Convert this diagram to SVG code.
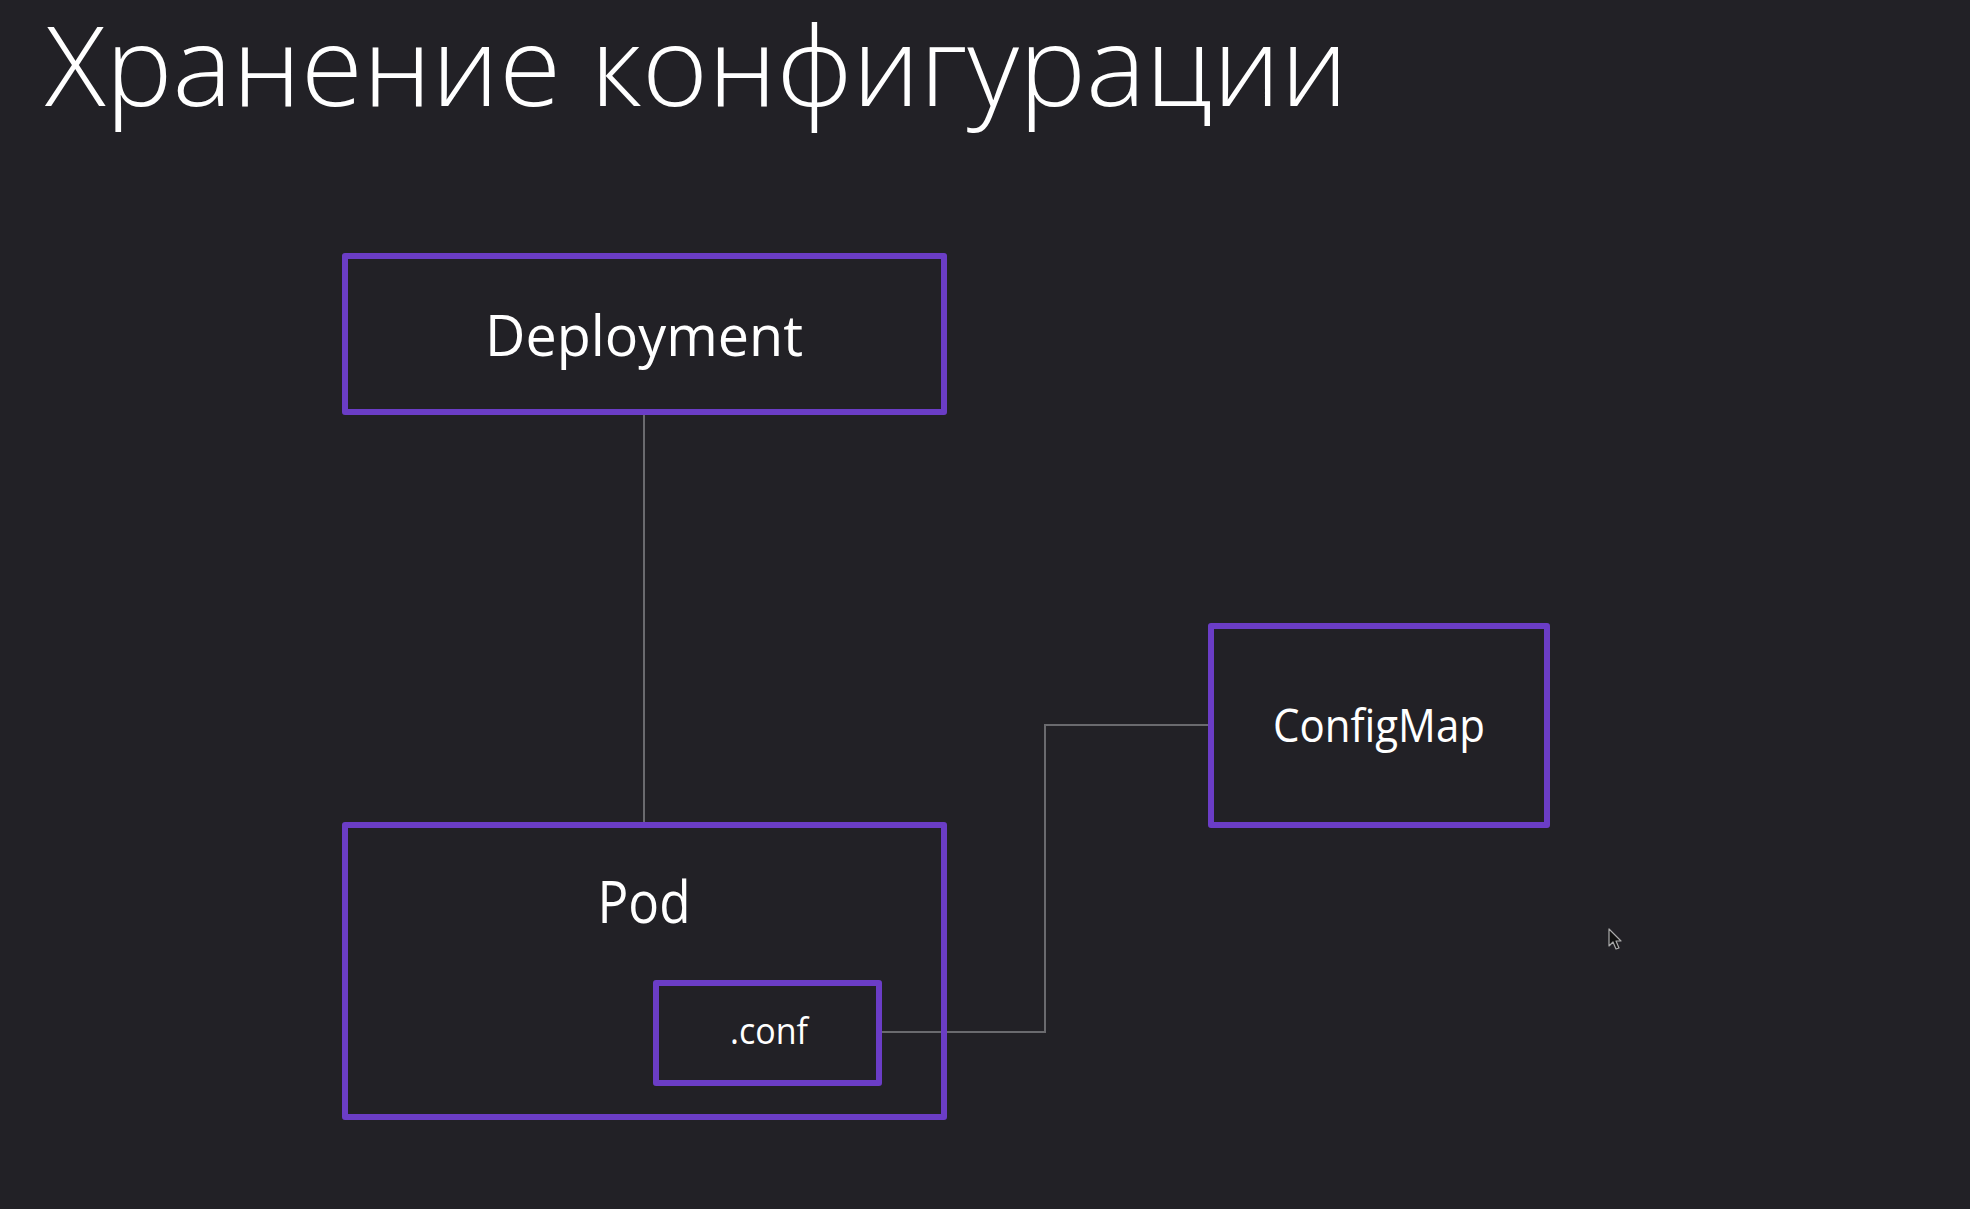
<svg xmlns="http://www.w3.org/2000/svg" width="1970" height="1209" viewBox="0 0 1970 1209">
  <style>
    .box { fill: none; stroke: #6b3dc6; stroke-width: 6; stroke-linejoin: round; }
    .lbl { font-family: "Open Sans", "Noto Sans", "Liberation Sans", sans-serif; fill: #ffffff; text-anchor: middle; }
    .title { font-family: "Open Sans", "Noto Sans", "Liberation Sans", sans-serif; font-weight: 300; fill: #ffffff; font-size: 110px; }
    .conn { fill: none; stroke: #6a6a6e; stroke-width: 2; }
  </style>
  <rect x="0" y="0" width="1970" height="1209" fill="#222126"/>
  <text class="title" x="45" y="106" textLength="1303" lengthAdjust="spacingAndGlyphs">Хранение конфигурации</text>

  <g id="connectors">
    <line class="conn" x1="644" y1="415" x2="644" y2="822"/>
    <polyline class="conn" points="882,1032 1045,1032 1045,725 1208,725"/>
  </g>

  <g id="deployment">
    <rect class="box" x="345" y="256" width="599" height="156"/>
    <text class="lbl" x="644" y="356" font-size="56" textLength="318" lengthAdjust="spacingAndGlyphs">Deployment</text>
  </g>

  <g id="pod">
    <rect class="box" x="345" y="825" width="599" height="292"/>
    <text class="lbl" x="644" y="923" font-size="58" textLength="93" lengthAdjust="spacingAndGlyphs">Pod</text>
  </g>

  <g id="conf">
    <rect class="box" x="656" y="983" width="223" height="100"/>
    <text class="lbl" x="769" y="1044" font-size="37" textLength="78" lengthAdjust="spacingAndGlyphs">.conf</text>
  </g>

  <g id="configmap">
    <rect class="box" x="1211" y="626" width="336" height="199"/>
    <text class="lbl" x="1379" y="742" font-size="45" textLength="212" lengthAdjust="spacingAndGlyphs">ConfigMap</text>
  </g>

  <g id="cursor">
    <polygon points="1609,929 1609,946 1613,942 1616,949 1619,948 1616,941 1621,941" fill="#111" stroke="#aaa" stroke-width="1.2" stroke-linejoin="round"/>
  </g>
</svg>
